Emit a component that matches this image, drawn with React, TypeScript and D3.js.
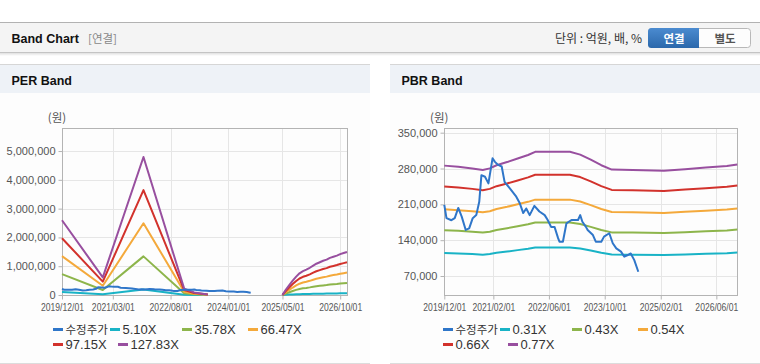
//@ts-nocheck
import * as d3 from "d3";
import React, { useEffect, useRef } from "react";

const FONT = "'Liberation Sans', Arial, 'Noto Sans CJK KR', sans-serif";
const KFONT = "'Noto Sans CJK KR', 'Liberation Sans', sans-serif";

const lineColors = ["#2f76c9", "#19b3c6", "#8db54b", "#f4a93b", "#d2322c", "#984f9f"];

const perMultiples = [5.1, 35.78, 66.47, 97.15, 127.83];
const pbrMultiples = [0.31, 0.43, 0.54, 0.66, 0.77];

const perLegend = ["수정주가", "5.10X", "35.78X", "66.47X", "97.15X", "127.83X"];
const pbrLegend = ["수정주가", "0.31X", "0.43X", "0.54X", "0.66X", "0.77X"];

const perXTicks = ["2019/12/01", "2021/03/01", "2022/08/01", "2024/01/01", "2025/05/01", "2026/10/01"];
const pbrXTicks = ["2019/12/01", "2021/02/01", "2022/06/01", "2023/10/01", "2025/02/01", "2026/06/01"];
const perYTicks = [0, 1000000, 2000000, 3000000, 4000000, 5000000];
const pbrYTicks = [70000, 140000, 210000, 280000, 350000];

// 수정주가
const priceDates = ["2019/12/01","2019/12/20","2020/02/01","2020/03/01","2020/04/01","2020/05/01","2020/06/05","2020/07/05","2020/08/05","2020/09/05","2020/10/01","2020/10/20","2020/11/20","2020/12/20","2021/01/25","2021/02/15","2021/03/15","2021/04/15","2021/05/10","2021/06/25","2021/08/20","2021/09/20","2021/10/20","2021/11/15","2021/12/15","2022/01/25","2022/03/10","2022/04/25","2022/05/20","2022/06/20","2022/07/20","2022/08/20","2022/09/01","2022/10/01","2022/11/01","2022/12/15","2023/02/10","2023/03/01","2023/03/20","2023/04/20","2023/05/05","2023/06/20","2023/07/15","2023/09/01","2023/09/25","2023/11/10","2023/12/10","2024/01/10","2024/02/20","2024/03/20","2024/04/20","2024/05/15","2024/06/15","2024/07/05","2024/07/20"];
const priceValues = [209000,183000,179000,183000,203000,186000,160000,163000,183000,189000,215000,267000,264000,251000,300000,293000,287000,284000,254000,241000,225000,212000,193000,202000,189000,207000,196000,189000,180000,166000,166000,144000,137000,137000,173000,179500,179500,189000,176000,166000,160000,150000,137000,137000,147000,153500,134000,124000,117600,107700,111000,114000,101000,88000,78400];

// EPS (PER band base), null = no band
const epsDates = ["2019/12/01","2020/12/01","2021/12/01","2022/12/01","2023/03/01","2023/07/01","2023/08/01","2025/04/01","2025/05/01","2025/06/01","2025/07/01","2025/08/01","2025/09/01","2025/10/01","2025/11/01","2025/12/01","2026/01/01","2026/02/01","2026/03/01","2026/04/01","2026/05/01","2026/06/01","2026/07/01","2026/08/01","2026/09/01","2026/10/01","2026/11/01","2026/12/01"];
const epsValues = [20300,4800,37500,1750,700,150,null,null,0,1500,2700,3900,5000,5900,6500,6900,7400,8000,8500,8900,9300,9600,10100,10400,10700,11100,11400,11700];

// BPS (PBR band base)
const bpsDates = ["2019/12/01","2020/04/01","2020/08/01","2020/11/01","2021/01/01","2021/03/01","2021/06/01","2021/09/01","2021/12/01","2022/02/01","2022/12/01","2023/03/01","2023/06/01","2023/09/01","2023/12/01","2024/06/01","2025/03/01","2025/09/01","2026/03/01","2026/09/01","2026/12/01"];
const bpsValues = [371000,368000,364000,360000,364000,372000,380000,389000,398000,406000,406000,399000,386000,372000,361000,360000,358000,362000,366000,370000,374000];

const parse = d3.timeParse("%Y/%m/%d");

function drawPanel(svg, opt) {
  const { px, title, xRange, yDomain, yTicks, xTicks, base, multiples, legend, legendX } = opt;
  const g = svg.append("g");

  // panel frame
  g.append("rect").attr("x", px).attr("y", 93).attr("width", 370).attr("height", 270).attr("fill", "#fdfdfd");
  g.append("rect").attr("x", px).attr("y", 64).attr("width", 370).attr("height", 29).attr("fill", "#eef2f7");
  g.append("line").attr("x1", px).attr("x2", px + 370).attr("y1", 64.5).attr("y2", 64.5).attr("stroke", "#d6d6d6");
  g.append("line").attr("x1", px).attr("x2", px + 370).attr("y1", 363.5).attr("y2", 363.5).attr("stroke", "#dcdcdc");
  g.append("text").attr("x", px + 11.5).attr("y", 85).attr("font-family", FONT).attr("font-weight", "bold")
    .attr("font-size", 12.5).attr("fill", "#111").text(title);

  const x = d3.scaleTime().domain([parse("2019/12/01"), parse("2026/12/01")]).range(xRange);
  const y = d3.scaleLinear().domain(yDomain).range([295, 128.3]);
  const [x0, x1] = xRange;

  // grid
  g.append("g").selectAll("line").data(yTicks).join("line")
    .attr("x1", x0).attr("x2", x1)
    .attr("y1", (d) => Math.round(y(d)) + 0.5).attr("y2", (d) => Math.round(y(d)) + 0.5)
    .attr("stroke", "#e6e6e6");
  g.append("g").selectAll("line").data(xTicks.slice(1)).join("line")
    .attr("x1", (d) => Math.round(x(parse(d))) + 0.5).attr("x2", (d) => Math.round(x(parse(d))) + 0.5)
    .attr("y1", 128.3).attr("y2", 295)
    .attr("stroke", "#e6e6e6");

  // axes
  const yAxis = g.append("g").attr("transform", `translate(${Math.round(x0) + 0.5},0)`)
    .call(d3.axisLeft(y).tickValues(yTicks).tickSize(4).tickPadding(3).tickFormat(d3.format(",")));
  const xAxis = g.append("g").attr("transform", `translate(0,${295.5})`)
    .call(d3.axisBottom(x).tickValues(xTicks.map(parse)).tickSize(4).tickPadding(4).tickFormat(d3.timeFormat("%Y/%m/%d")));
  [yAxis, xAxis].forEach((a) => {
    a.select(".domain").remove();
    a.selectAll("line").attr("stroke", "#b4b4b4");
    a.selectAll("text").attr("font-family", FONT).attr("font-size", 11).attr("fill", "#555");
  });
  // date labels are narrow in the original: squeeze horizontally
  xAxis.selectAll("text").attr("transform", "scale(0.78,1)");

  g.append("rect").attr("x", Math.round(x0) + 0.5).attr("y", 128.5)
    .attr("width", Math.round(x1) - Math.round(x0)).attr("height", 295.5 - 128.5)
    .attr("fill", "none").attr("stroke", "#b4b4b4");

  g.append("text").attr("x", x0 - 5).attr("y", 122).attr("text-anchor", "middle")
    .attr("font-family", KFONT).attr("font-size", 11.5).attr("fill", "#555").text("(원)");

  // lines
  const line = d3.line().defined((d) => d[1] != null).x((d) => x(d[0])).y((d) => y(d[1]));
  const baseRows = base.dates.map((d, i) => [parse(d), base.values[i]]);
  const bands = multiples.map((m) => baseRows.map(([d, v]) => [d, v == null ? null : v * m]));
  const price = priceDates.map((d, i) => [parse(d), priceValues[i]]);

  g.append("g").attr("fill", "none").attr("stroke-width", 2).attr("stroke-linejoin", "round")
    .selectAll("path").data(bands).join("path")
    .attr("stroke", (d, i) => lineColors[i + 1])
    .attr("d", line);
  g.append("path").datum(price).attr("fill", "none").attr("stroke", lineColors[0])
    .attr("stroke-width", 2).attr("stroke-linejoin", "round").attr("d", line);

  // legend
  const offsets = [[0, 0], [57, 0], [129, 0], [195, 0], [0, 1], [65, 1]];
  const li = g.append("g").selectAll("g").data(legend).join("g")
    .attr("transform", (d, i) => `translate(${legendX + offsets[i][0]},${329.5 + offsets[i][1] * 15})`);
  li.append("line").attr("x1", 0).attr("x2", 10).attr("stroke-width", 3)
    .attr("stroke", (d, i) => lineColors[i]);
  li.append("text").attr("x", 12.5).attr("dy", "0.36em")
    .attr("font-family", (d) => (/[가-힣]/.test(d) ? KFONT : FONT))
    .attr("font-size", (d) => (/[가-힣]/.test(d) ? 11.5 : 13))
    .attr("fill", "#333").text((d) => d);
}

const chart = () => {
  const svg = d3.create("svg").attr("width", 760).attr("height", 364)
    .attr("style", "position:absolute;left:0;top:0;background:#fff");

  // top header
  const defs = svg.append("defs");
  const sh = defs.append("linearGradient").attr("id", "hdrShadow").attr("x1", 0).attr("x2", 0).attr("y1", 0).attr("y2", 1);
  sh.append("stop").attr("offset", 0).attr("stop-color", "#000").attr("stop-opacity", 0.12);
  sh.append("stop").attr("offset", 1).attr("stop-color", "#000").attr("stop-opacity", 0);
  const bg = defs.append("linearGradient").attr("id", "btnBlue").attr("x1", 0).attr("x2", 0).attr("y1", 0).attr("y2", 1);
  bg.append("stop").attr("offset", 0).attr("stop-color", "#4b8bd0");
  bg.append("stop").attr("offset", 1).attr("stop-color", "#2b68ab");

  svg.append("rect").attr("x", 0).attr("y", 22).attr("width", 760).attr("height", 31).attr("fill", "#f4f4f4");
  svg.append("line").attr("x1", 0).attr("x2", 760).attr("y1", 22.5).attr("y2", 22.5).attr("stroke", "#b2b2b2");
  svg.append("line").attr("x1", 0).attr("x2", 760).attr("y1", 52.5).attr("y2", 52.5).attr("stroke", "#c4c4c4");
  svg.append("rect").attr("x", 0).attr("y", 53).attr("width", 760).attr("height", 3).attr("fill", "url(#hdrShadow)");

  svg.append("text").attr("x", 11.5).attr("y", 42.5).attr("font-family", FONT).attr("font-weight", "bold")
    .attr("font-size", 12.5).attr("fill", "#111").text("Band Chart");
  svg.append("text").attr("x", 88).attr("y", 42.5).attr("font-family", KFONT)
    .attr("font-size", 11.5).attr("fill", "#888").text("[연결]");
  svg.append("text").attr("x", 642).attr("y", 42.5).attr("text-anchor", "end").attr("font-family", KFONT)
    .attr("font-size", 12).attr("fill", "#333").text("단위 : 억원, 배, %");

  // toggle buttons
  svg.append("rect").attr("x", 648.5).attr("y", 28.5).attr("width", 102).attr("height", 19).attr("rx", 3)
    .attr("fill", "#fdfdfd").attr("stroke", "#b8b8b8");
  svg.append("path").attr("d", "M699,28 H651.5 Q648,28 648,31.5 V44.5 Q648,48 651.5,48 H699 Z").attr("fill", "url(#btnBlue)");
  svg.append("text").attr("x", 674).attr("y", 42.5).attr("text-anchor", "middle").attr("font-family", KFONT)
    .attr("font-weight", "bold").attr("font-size", 11.5).attr("fill", "#fff").text("연결");
  svg.append("text").attr("x", 725).attr("y", 42.5).attr("text-anchor", "middle").attr("font-family", KFONT)
    .attr("font-weight", "bold").attr("font-size", 11.5).attr("fill", "#555").text("별도");

  drawPanel(svg, {
    px: 0, title: "PER Band", xRange: [62, 347], yDomain: [0, 5790000], yTicks: perYTicks, xTicks: perXTicks,
    base: { dates: epsDates, values: epsValues }, multiples: perMultiples, legend: perLegend, legendX: 53,
  });
  drawPanel(svg, {
    px: 390, title: "PBR Band", xRange: [444.3, 737.3], yDomain: [32900, 358600], yTicks: pbrYTicks, xTicks: pbrXTicks,
    base: { dates: bpsDates, values: bpsValues }, multiples: pbrMultiples, legend: pbrLegend, legendX: 443,
  });

  return svg.node();
};

export default function App() {
  const holderRef = useRef<HTMLDivElement | null>(null);

  useEffect(() => {
    const holder = holderRef.current;
    if (!holder || holder.hasChildNodes()) return;
    holder.appendChild(chart());
  }, []);

  return <div ref={holderRef}></div>;
}
